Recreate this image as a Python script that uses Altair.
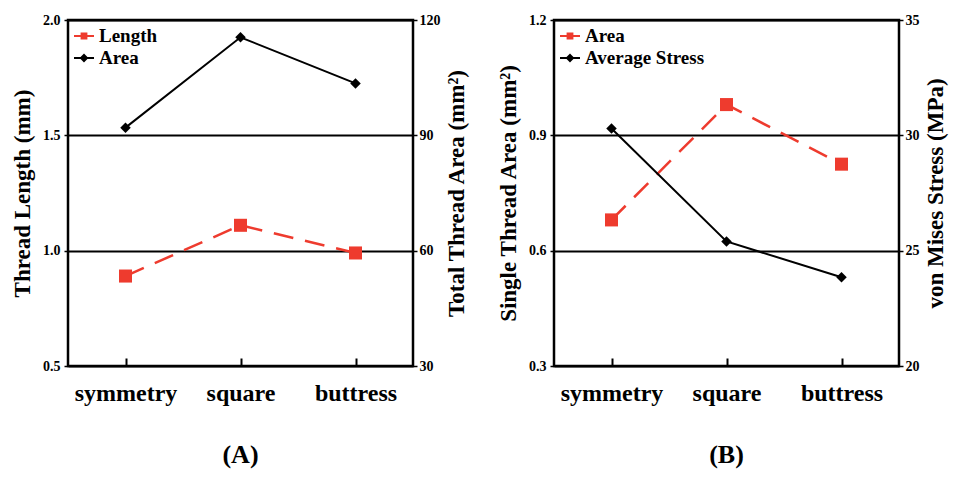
import altair as alt
import pandas as pd

shapes = ["symmetry", "square", "buttress"]

# Panel A
thread_length = [0.89, 1.11, 0.99]
total_area = [92.0, 115.5, 103.5]
# Panel B
single_area = [0.68, 0.98, 0.825]
avg_stress = [30.3, 25.4, 23.85]

RED = "#ee3b2e"
SERIF = "Liberation Serif"
SQ = "M-1,0H1M-0.24,-0.24H0.24V0.24H-0.24Z"
DI = "M-1,0H1M-0.3,0L0,-0.3L0.3,0L0,0.3Z"


def panel(left_vals, right_vals, left_name, right_name, left_dom, left_ticks,
          right_dom, right_ticks, left_title, right_title, caption, lfmt, rfmt):
    df_l = pd.DataFrame({"shape": shapes, "v": left_vals, "series": left_name})
    df_r = pd.DataFrame({"shape": shapes, "v": right_vals, "series": right_name})

    x = alt.X("shape:N", sort=shapes, scale=alt.Scale(type="point"),
              axis=alt.Axis(title=None, labelAngle=0, labelFont=SERIF, labelFontSize=24,
                            labelFontWeight="bold", labelColor="black", domain=False,
                            ticks=True, tickSize=8, tickWidth=2, tickColor="black",
                            offset=-8, labelPadding=15, grid=False))

    dom = [left_name, right_name]
    legend = alt.Legend(
        title=None, orient="top-left", labelFont=SERIF, labelFontSize=19,
        labelFontWeight="bold", labelColor="black", symbolSize=400,
        symbolStrokeWidth=2, symbolOpacity=1, rowPadding=1, labelOffset=4,
        offset=2, padding=3,
    )
    fill = alt.Fill("series:N", scale=alt.Scale(domain=dom, range=[RED, "black"]), legend=legend)
    stroke = alt.Stroke("series:N", scale=alt.Scale(domain=dom, range=[RED, "black"]), legend=legend)
    shp = alt.Shape("series:N", scale=alt.Scale(domain=dom, range=[SQ, DI]), legend=legend)

    y_l = alt.Y("v:Q", scale=alt.Scale(domain=left_dom, nice=False, zero=False),
                axis=alt.Axis(values=left_ticks, title=left_title, orient="left", format=lfmt,
                              grid=True, gridColor="black", gridWidth=1.8, gridOpacity=1,
                              domain=False, tickSize=4, tickColor="black", tickWidth=1.5,
                              labelPadding=4, labelFont=SERIF, labelFontSize=14,
                              labelFontWeight="bold", labelColor="black",
                              titleFont=SERIF, titleFontSize=23, titleFontWeight="bold",
                              titleColor="black", titlePadding=8))
    y_r = alt.Y("v:Q", scale=alt.Scale(domain=right_dom, nice=False, zero=False),
                axis=alt.Axis(values=right_ticks, title=right_title, orient="right", format=rfmt,
                              grid=False, domain=False, tickSize=4, tickColor="black",
                              tickWidth=1.5, labelPadding=2, labelFont=SERIF, labelFontSize=14,
                              labelFontWeight="bold", labelColor="black",
                              titleFont=SERIF, titleFontSize=23, titleFontWeight="bold",
                              titleColor="black", titlePadding=5, titleAngle=270,
                              titleBaseline="top"))

    base_l = alt.Chart(df_l)
    base_r = alt.Chart(df_r)
    left = alt.layer(
        base_l.mark_line(color=RED, strokeDash=[20, 12], strokeWidth=2.5).encode(x=x, y=y_l),
        base_l.mark_point(shape="square", filled=True, size=170, opacity=1, color=RED).encode(x=x, y=y_l),
        base_l.mark_point(opacity=0).encode(x=x, y=y_l, fill=fill, stroke=stroke, shape=shp),
    )
    right = alt.layer(
        base_r.mark_line(color="black", strokeWidth=2).encode(x=x, y=y_r),
        base_r.mark_point(shape="diamond", filled=True, size=110, opacity=1, color="black").encode(x=x, y=y_r),
    )
    return alt.layer(left, right).resolve_scale(y="independent").properties(
        width=345, height=346,
        title=alt.TitleParams(caption, orient="bottom", font=SERIF, fontSize=26,
                              fontWeight="bold", color="black", offset=37, frame="group"),
    )


pa = panel(thread_length, total_area, "Length", "Area", [0.5, 2.0], [0.5, 1.0, 1.5, 2.0],
           [30, 120], [30, 60, 90, 120], "Thread Length (mm)", "Total Thread Area (mm²)",
           "(A)", ".1f", "d")
pb = panel(single_area, avg_stress, "Area", "Average Stress", [0.3, 1.2], [0.3, 0.6, 0.9, 1.2],
           [20, 35], [20, 25, 30, 35], "Single Thread Area (mm²)", "von Mises Stress (MPa)",
           "(B)", ".1f", "d")

chart = alt.hconcat(pa, pb, spacing=26).resolve_scale(
    fill="independent", stroke="independent", shape="independent", y="independent"
).properties(
    padding={"left": 2, "top": 3, "right": 0, "bottom": 0},
    background="white",
).configure_view(stroke="black", strokeWidth=2.5)

chart.save("out.html", embed_options={"renderer": "svg", "actions": False})
